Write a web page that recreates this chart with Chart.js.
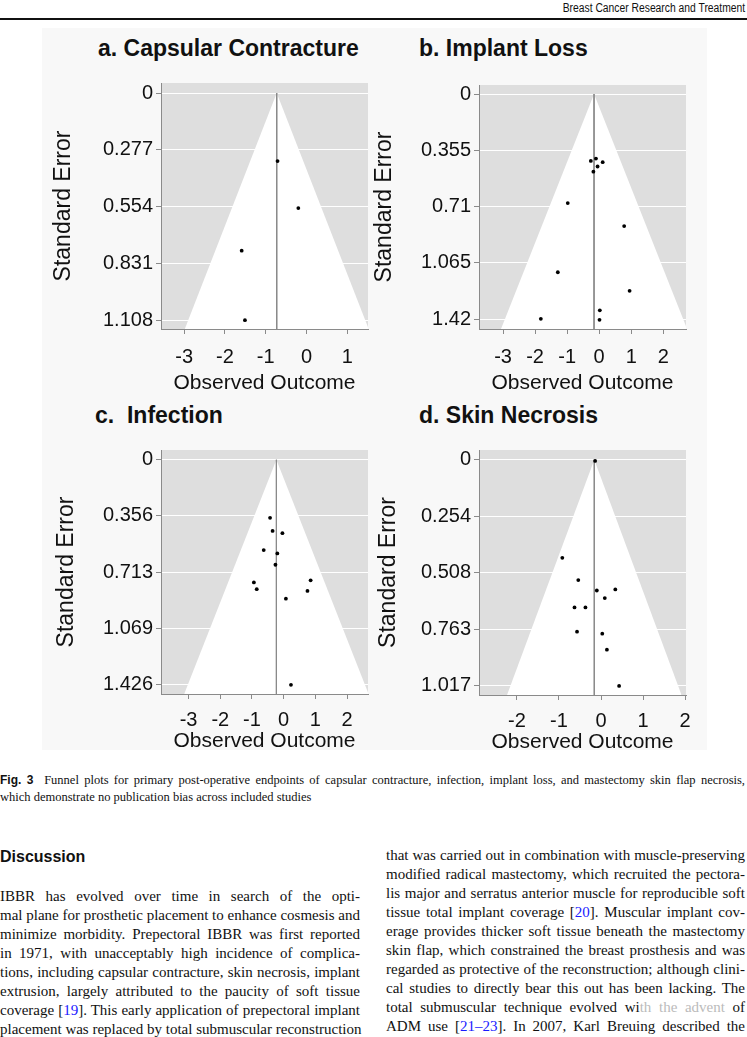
<!DOCTYPE html>
<html><head><meta charset="utf-8">
<script src="https://cdn.jsdelivr.net/npm/chart.js@4.4.1/dist/chart.umd.min.js"></script>
<style>
html,body{margin:0;padding:0;background:#fff;}
body{width:747px;height:1037px;position:relative;overflow:hidden;font-family:"Liberation Serif","Times New Roman",serif;color:#111;}
.abs{position:absolute;}
#header{right:2px;top:1px;font-family:"Liberation Sans",sans-serif;font-size:12px;line-height:14px;color:#111;transform:scaleX(0.86);transform-origin:right center;white-space:nowrap;}
#rule{left:0;top:18px;width:747px;height:2px;background:#111;}
#figbg{left:42px;top:28px;width:665px;height:722px;background:#f8f8f8;}
.ptitle{position:absolute;font-family:"Liberation Sans",Arial,sans-serif;font-weight:bold;font-size:23px;line-height:24px;color:#111;white-space:pre;}
canvas{position:absolute;}
.cap{position:absolute;left:0;width:745px;font-size:12.5px;line-height:17px;}
.cap b{font-family:"Liberation Sans",sans-serif;font-weight:bold;font-size:12px;}
.col{position:absolute;font-size:15px;}
.ln{height:19px;line-height:19px;text-align:justify;text-align-last:justify;white-space:nowrap;}
.ref{color:#1a1aff;}
h3{position:absolute;margin:0;left:0;top:847px;font-family:"Liberation Sans",Arial,sans-serif;font-size:16px;font-weight:bold;line-height:20px;}
</style>
</head><body>
<div id="header" class="abs">Breast Cancer Research and Treatment</div>
<div id="rule" class="abs"></div>
<div id="figbg" class="abs"></div>

<div class="ptitle" id="ta" style="left:98px;top:36px"></div>
<div class="ptitle" id="tb" style="left:419px;top:36px"></div>
<div class="ptitle" id="tc" style="left:95px;top:403px"></div>
<div class="ptitle" id="td" style="left:419px;top:403px"></div>

<canvas id="ca" width="348" height="332" style="left:40px;top:68px"></canvas>
<canvas id="cb" width="348" height="330" style="left:358px;top:70px"></canvas>
<canvas id="cc" width="348" height="330" style="left:40px;top:435px"></canvas>
<canvas id="cd" width="348" height="331" style="left:358px;top:435px"></canvas>

<div class="cap" style="top:772px;text-align:justify;text-align-last:justify;"><b>Fig. 3</b>&nbsp; Funnel plots for primary post-operative endpoints of capsular contracture, infection, implant loss, and mastectomy skin flap necrosis,</div>
<div class="cap" style="top:789px;">which demonstrate no publication bias across included studies</div>

<h3>Discussion</h3>
<div class="col" style="left:0;top:887px;width:360px;">
<div class="ln">IBBR has evolved over time in search of the opti-</div>
<div class="ln">mal plane for prosthetic placement to enhance cosmesis and</div>
<div class="ln">minimize morbidity. Prepectoral IBBR was first reported</div>
<div class="ln">in 1971, with unacceptably high incidence of complica-</div>
<div class="ln">tions, including capsular contracture, skin necrosis, implant</div>
<div class="ln">extrusion, largely attributed to the paucity of soft tissue</div>
<div class="ln">coverage [<span class="ref">19</span>]. This early application of prepectoral implant</div>
<div class="ln">placement was replaced by total submuscular reconstruction</div>
</div>
<div class="col" style="left:386px;top:846px;width:359px;">
<div class="ln">that was carried out in combination with muscle-preserving</div>
<div class="ln">modified radical mastectomy, which recruited the pectora-</div>
<div class="ln">lis major and serratus anterior muscle for reproducible soft</div>
<div class="ln">tissue total implant coverage [<span class="ref">20</span>]. Muscular implant cov-</div>
<div class="ln">erage provides thicker soft tissue beneath the mastectomy</div>
<div class="ln">skin flap, which constrained the breast prosthesis and was</div>
<div class="ln">regarded as protective of the reconstruction; although clini-</div>
<div class="ln">cal studies to directly bear this out has been lacking. The</div>
<div class="ln">total submuscular technique evolved wi<span style="color:#bbb">th the advent</span> of</div>
<div class="ln">ADM use [<span class="ref">21–23</span>]. In 2007, Karl Breuing described the</div>
</div>

<script>
// ---------- data ----------
const panelTitles = ['a. Capsular Contracture', 'b. Implant Loss', 'c.  Infection', 'd. Skin Necrosis'];
const yAxisTitle = 'Standard Error';
const xAxisTitle = 'Observed Outcome';

// a. Capsular Contracture
const capsularOutcome = [-0.71, -0.20, -1.59, -1.51];
const capsularSE      = [0.332, 0.561, 0.769, 1.108];
const capsularPooled  = -0.73;
const capsularYTicks  = ['0', '0.277', '0.554', '0.831', '1.108'];
const capsularXTicks  = [-3, -2, -1, 0, 1];

// b. Implant Loss
const implantOutcome = [-0.26, -0.10, 0.11, -0.05, -0.18, -0.98, 0.78, -1.29, 0.95, 0.02, 0.01, -1.82];
const implantSE      = [0.422, 0.407, 0.430, 0.457, 0.490, 0.688, 0.833, 1.124, 1.241, 1.364, 1.424, 1.418];
const implantPooled  = -0.16;
const implantYTicks  = ['0', '0.355', '0.71', '1.065', '1.42'];
const implantXTicks  = [-3, -2, -1, 0, 1, 2];

// c. Infection
const infectionOutcome = [-0.43, -0.35, -0.04, -0.63, -0.20, -0.26, -0.94, -0.85, 0.85, 0.75, 0.07, 0.23];
const infectionSE      = [0.368, 0.451, 0.465, 0.572, 0.593, 0.665, 0.777, 0.820, 0.764, 0.831, 0.880, 1.426];
const infectionPooled  = -0.23;
const infectionYTicks  = ['0', '0.356', '0.713', '1.069', '1.426'];
const infectionXTicks  = [-3, -2, -1, 0, 1, 2];

// d. Skin Necrosis
const necrosisOutcome = [-0.14, -0.92, -0.54, -0.10, 0.34, 0.09, -0.63, -0.37, -0.57, 0.03, 0.14, 0.43];
const necrosisSE      = [0.005, 0.441, 0.541, 0.588, 0.583, 0.622, 0.664, 0.664, 0.773, 0.782, 0.854, 1.017];
const necrosisPooled  = -0.16;
const necrosisYTicks  = ['0', '0.254', '0.508', '0.763', '1.017'];
const necrosisXTicks  = [-2, -1, 0, 1, 2];

const z95 = 1.96;

// ---------- layout / style ----------
const FONT = '"Liberation Sans", Arial, Helvetica, sans-serif';
const COLORS = {plot: '#dedede', grid: '#ffffff', axis: '#8a8a8a', center: '#8a8a8a', point: '#000000', text: '#111111'};

const panels = [
  {canvas: 'ca', title: 'ta', outcome: capsularOutcome, se: capsularSE, pooled: capsularPooled, yTicks: capsularYTicks, xTicks: capsularXTicks,
   xMin: -3.57, xMax: 1.51, yMin: -0.049, yMax: 1.151, yTitlePad: 9.5, xTitlePad: 4.1, xTickPad: 11.7},
  {canvas: 'cb', title: 'tb', outcome: implantOutcome, se: implantSE, pooled: implantPooled, yTicks: implantYTicks, xTicks: implantXTicks,
   xMin: -3.75, xMax: 2.71, yMin: -0.057, yMax: 1.482, yTitlePad: 12.4, xTitlePad: 4.1, xTickPad: 11.7},
  {canvas: 'cc', title: 'tc', outcome: infectionOutcome, se: infectionSE, pooled: infectionPooled, yTicks: infectionYTicks, xTicks: infectionXTicks,
   xMin: -3.87, xMax: 2.66, yMin: -0.062, yMax: 1.484, yTitlePad: 12.9, xTitlePad: 10.9, xTickPad: 9.5},
  {canvas: 'cd', title: 'td', outcome: necrosisOutcome, se: necrosisSE, pooled: necrosisPooled, yTicks: necrosisYTicks, xTicks: necrosisXTicks,
   xMin: -2.9, xMax: 2.02, yMin: -0.044, yMax: 1.058, yTitlePad: 16.5, xTitlePad: 10.9, xTickPad: 9.5}
];

const plotBg = {
  id: 'plotBg',
  beforeDraw(chart) {
    const {ctx, chartArea: {left, top, width, height}} = chart;
    ctx.save();
    ctx.fillStyle = COLORS.plot;
    ctx.fillRect(left, top, width, height);
    ctx.restore();
  }
};

Chart.defaults.font.family = FONT;
Chart.defaults.color = COLORS.text;

panels.forEach((p, i) => {
  document.getElementById(p.title).textContent = panelTitles[i];
  const yVals = p.yTicks.map(Number);
  const seMax = p.yMax;
  const funnel = [
    {x: p.pooled - z95 * seMax, y: seMax},
    {x: p.pooled, y: 0},
    {x: p.pooled + z95 * seMax, y: seMax}
  ];
  const centerLine = [{x: p.pooled, y: 0}, {x: p.pooled, y: seMax}];
  const pts = p.outcome.map((v, k) => ({x: v, y: p.se[k]}));

  new Chart(document.getElementById(p.canvas), {
    type: 'scatter',
    data: {
      datasets: [
        {data: pts, order: 1, pointRadius: 1.9, pointBackgroundColor: COLORS.point, pointBorderWidth: 0, showLine: false},
        {data: centerLine, order: 2, showLine: true, borderColor: COLORS.center, borderWidth: 1, pointRadius: 0, fill: false},
        {data: funnel, order: 3, showLine: true, borderColor: '#ffffff', borderWidth: 0, pointRadius: 0, backgroundColor: '#ffffff', fill: 'start', tension: 0}
      ]
    },
    options: {
      responsive: false,
      animation: false,
      events: [],
      layout: {padding: {top: 10, left: 0, right: 20, bottom: 0}},
      plugins: {legend: {display: false}, tooltip: {enabled: false}, title: {display: false}},
      scales: {
        x: {
          type: 'linear', position: 'bottom', min: p.xMin, max: p.xMax, z: 1,
          afterBuildTicks: s => { s.ticks = p.xTicks.map(v => ({value: v})); },
          afterFit: s => { s.height = 71; },
          grid: {drawOnChartArea: false, drawTicks: true, tickLength: 5, tickColor: COLORS.axis, lineWidth: 1},
          border: {display: true, color: COLORS.axis, width: 1},
          ticks: {font: {size: 20}, padding: p.xTickPad, maxRotation: 0, autoSkip: false, color: COLORS.text,
                  callback: v => String(v)},
          title: {display: true, text: xAxisTitle, font: {size: 21}, color: COLORS.text, padding: {top: 0, bottom: p.xTitlePad}}
        },
        y: {
          type: 'linear', position: 'left', reverse: true, min: p.yMin, max: p.yMax,
          afterBuildTicks: s => { s.ticks = yVals.map(v => ({value: v})); },
          afterFit: s => { s.width = 121; },
          grid: {drawOnChartArea: true, color: COLORS.grid, lineWidth: 1, drawTicks: true, tickLength: 5, tickColor: COLORS.axis},
          border: {display: true, color: COLORS.axis, width: 1},
          ticks: {font: {size: 20}, padding: 3, autoSkip: false, color: COLORS.text,
                  callback: (v, idx) => p.yTicks[idx]},
          title: {display: true, text: yAxisTitle, font: {size: 23}, color: COLORS.text, padding: {top: p.yTitlePad, bottom: 0}}
        }
      }
    },
    plugins: [plotBg]
  });
});
</script>
</body></html>
